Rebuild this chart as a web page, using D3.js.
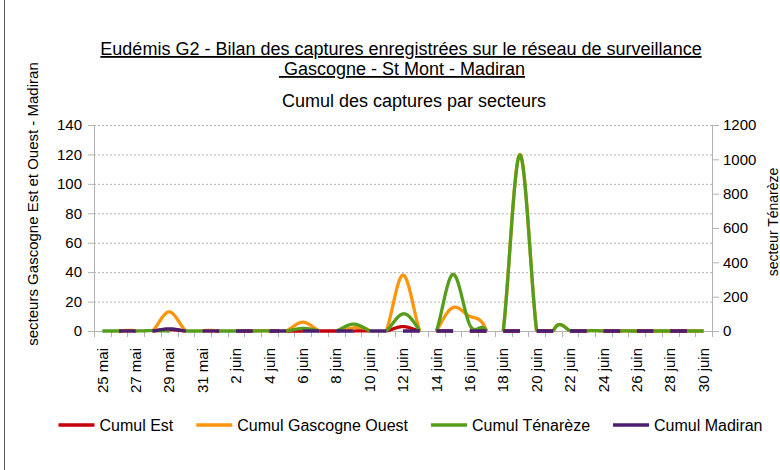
<!DOCTYPE html>
<html><head><meta charset="utf-8">
<script src="https://cdn.jsdelivr.net/npm/d3@7"></script>
<style>
body{margin:0;background:#fff}
svg{display:block}
text{font-family:"Liberation Sans",Arial,sans-serif;fill:#000}
</style>
</head><body>
<svg id="chart" width="780" height="470"></svg>
<script>
// ---------- data ----------
const dates = ["25 mai","26 mai","27 mai","28 mai","29 mai","30 mai","31 mai",
  "1 juin","2 juin","3 juin","4 juin","5 juin","6 juin","7 juin","8 juin","9 juin","10 juin",
  "11 juin","12 juin","13 juin","14 juin","15 juin","16 juin","17 juin","18 juin","19 juin","20 juin",
  "21 juin","22 juin","23 juin","24 juin","25 juin","26 juin","27 juin","28 juin","29 juin","30 juin"];
const tickLabels = ["25 mai","27 mai","29 mai","31 mai","2 juin","4 juin","6 juin","8 juin","10 juin",
  "12 juin","14 juin","16 juin","18 juin","20 juin","22 juin","24 juin","26 juin","28 juin","30 juin"];
const cumulEst =           [0,0,0,0,1,0,0, 0,0,0,0,0,0,0,0,0,0,0,3,0,0,0,0,0,0,0,0,0,0,0,0,0,0,0,0,0,0];
const cumulGascogneOuest = [0,0,0,0,13,0,0, 0,0,0,0,0,6,0,0,2,0,0,38,0,0,16,10,0,0,120,0,0,0,0,0,0,0,0,0,0,0];
const cumulTenareze =      [0,0,0,2,0,0,0, 0,0,0,0,0,15,0,0,40,0,0,100,0,0,330,35,0,0,1025,0,0,0,0,0,0,0,0,0,0,0];
const cumulMadiran =       [0,0,0,0,1.5,0,0, 0,0,0,0,0,0,0,0,0,0,0,0,0,0,0,0,0,0,0,0,0,0,0,0,0,0,0,0,0,0];
const leftTicks = [0,20,40,60,80,100,120,140];
const rightTicks = [0,200,400,600,800,1000,1200];
const seriesNames = ["Cumul Est","Cumul Gascogne Ouest","Cumul Ténarèze","Cumul Madiran"];
const titleLines = ["Eudémis G2 - Bilan des captures enregistrées sur le réseau de surveillance",
  " Gascogne - St Mont - Madiran"];
const subtitle = "Cumul des captures par secteurs";
const leftAxisTitle = "secteurs Gascogne Est et Ouest - Madiran";
const rightAxisTitle = "secteur Ténarèze";

// ---------- layout ----------
const svg = d3.select("#chart");
const P = {left:94, right:712, top:125, bottom:331};
const AXIS = "#b3b3b3";
const x = d3.scalePoint().domain(dates).range([P.left, P.right]).padding(0.5);
const xb = d3.scaleBand().domain(dates).range([P.left, P.right]);
const yL = d3.scaleLinear().domain([0,140]).range([P.bottom, P.top]);
const yR = d3.scaleLinear().domain([0,1200]).range([P.bottom, P.top]);

// frame
svg.append("line").attr("x1",4.5).attr("x2",4.5).attr("y1",0).attr("y2",470)
  .attr("stroke","#555").attr("stroke-width",1);

// titles
const tg = svg.append("g").attr("font-size",18);
tg.append("text").attr("x",401).attr("y",55).attr("text-anchor","middle")
  .attr("text-decoration","underline").text(titleLines[0]);
tg.append("text").attr("x",402).attr("y",75).attr("text-anchor","middle")
  .attr("text-decoration","underline").style("white-space","pre").text(titleLines[1]);
tg.append("text").attr("x",414).attr("y",107).attr("text-anchor","middle").text(subtitle);

// grid
svg.append("g").selectAll("line").data(leftTicks.filter(v=>v>0)).join("line")
  .attr("x1",P.left).attr("x2",P.right).attr("y1",d=>yL(d)+0.5).attr("y2",d=>yL(d)+0.5)
  .attr("stroke",AXIS).attr("stroke-width",1).attr("stroke-dasharray","2,2");

// axes lines
const ag = svg.append("g").attr("stroke",AXIS).attr("stroke-width",1);
ag.append("line").attr("x1",P.left+0.5).attr("x2",P.left+0.5).attr("y1",P.top).attr("y2",P.bottom);
ag.append("line").attr("x1",P.right+0.5).attr("x2",P.right+0.5).attr("y1",P.top).attr("y2",P.bottom);
ag.append("line").attr("x1",P.left).attr("x2",P.right).attr("y1",P.bottom+0.5).attr("y2",P.bottom+0.5);
// category boundary ticks
const bounds = dates.map(d=>xb(d)).concat([xb(dates[dates.length-1])+xb.bandwidth()]);
ag.selectAll(".bt").data(bounds).join("line")
  .attr("x1",d=>Math.round(d)+0.5).attr("x2",d=>Math.round(d)+0.5)
  .attr("y1",P.bottom).attr("y2",P.bottom+6);
ag.selectAll(".lt").data(leftTicks).join("line")
  .attr("x1",P.left-6).attr("x2",P.left).attr("y1",d=>yL(d)+0.5).attr("y2",d=>yL(d)+0.5);
ag.selectAll(".rt").data(rightTicks).join("line")
  .attr("x1",P.right).attr("x2",P.right+7).attr("y1",d=>yR(d)+0.5).attr("y2",d=>yR(d)+0.5);

// tick labels
svg.append("g").attr("font-size",15).selectAll("text").data(leftTicks).join("text")
  .attr("x",P.left-12).attr("y",d=>yL(d)).attr("dy","0.35em").attr("text-anchor","end").text(d=>d);
svg.append("g").attr("font-size",15).selectAll("text").data(rightTicks).join("text")
  .attr("x",P.right+11).attr("y",d=>yR(d)).attr("dy","0.35em").attr("text-anchor","start").text(d=>d);
svg.append("g").attr("font-size",15).selectAll("text").data(tickLabels).join("text")
  .attr("transform",d=>`translate(${x(d)},${P.bottom+17}) rotate(-90)`)
  .attr("dy","0.35em").attr("text-anchor","end").text(d=>d);

// axis titles
svg.append("text").attr("font-size",15).attr("text-anchor","middle").attr("dy","0.35em")
  .attr("transform","translate(33,204) rotate(-90)").text(leftAxisTitle);
svg.append("text").attr("font-size",14).attr("text-anchor","middle").attr("dy","0.35em")
  .attr("transform","translate(773,222) rotate(-90)").text(rightAxisTitle);

// ---------- series (natural cubic spline, parts below zero removed) ----------
function naturalM(y){
  const n=y.length, M=new Array(n).fill(0), m=n-2;
  const c=new Array(m), d=new Array(m);
  for(let k=0;k<m;k++){
    const i=k+1, r=6*(y[i-1]-2*y[i]+y[i+1]);
    if(k===0){c[k]=1/4; d[k]=r/4;}
    else {const den=4-c[k-1]; c[k]=1/den; d[k]=(r-d[k-1])/den;}
  }
  for(let k=m-1;k>=0;k--) M[k+1]=d[k]-c[k]*M[k+2];
  return M;
}
function sampled(vals){
  const M=naturalM(vals), N=40, pts=[];
  for(let i=0;i<vals.length-1;i++){
    const last=(i===vals.length-2);
    for(let s=0;s<(last?N+1:N);s++){
      const t=s/N, u=1-t;
      const v=u*vals[i]+t*vals[i+1]+((u*u*u-u)*M[i]+(t*t*t-t)*M[i+1])/6;
      pts.push({p:i+t, v});
    }
  }
  const out=[pts[0]];
  for(let k=1;k<pts.length;k++){
    const a=pts[k-1], b=pts[k];
    if((a.v<0)!==(b.v<0) && Math.abs(a.v-b.v)>1e-9){
      const f=a.v/(a.v-b.v);
      out.push({p:a.p+f*(b.p-a.p), v:0});
    }
    out.push(b);
  }
  return out;
}
const step = x.step();
const x0 = x(dates[0]);
const series = [
  {name:seriesNames[0], values:cumulEst, color:"#c5000b", y:yL},
  {name:seriesNames[1], values:cumulGascogneOuest, color:"#ff950e", y:yL},
  {name:seriesNames[2], values:cumulTenareze, color:"#579d1c", y:yR},
  {name:seriesNames[3], values:cumulMadiran, color:"#4b1f6f", y:yL}
];
const lg = svg.append("g");
series.forEach(s=>{
  const line = d3.line().defined(d=>d.v>=0).x(d=>x0+d.p*step).y(d=>s.y(d.v));
  lg.append("path").attr("d",line(sampled(s.values))).attr("fill","none")
    .attr("stroke",s.color).attr("stroke-width",3.3).attr("stroke-linejoin","round").attr("stroke-linecap","butt");
});

// ---------- legend ----------
const leg = svg.append("g").attr("font-size",16);
let cx = 0; const items=[];
series.forEach((s,i)=>{
  const g = leg.append("g");
  g.append("line").attr("x1",0).attr("x2",36).attr("y1",0).attr("y2",0).attr("stroke",s.color).attr("stroke-width",3.5);
  const t = g.append("text").attr("x",41).attr("dy","0.35em").text(s.name);
  const w = 41 + t.node().getComputedTextLength();
  items.push({g, off:cx}); cx += w + 23;
});
const total = cx - 23, startX = 410.5 - total/2;
items.forEach(it=>it.g.attr("transform",`translate(${startX+it.off},425)`));
</script>
</body></html>
